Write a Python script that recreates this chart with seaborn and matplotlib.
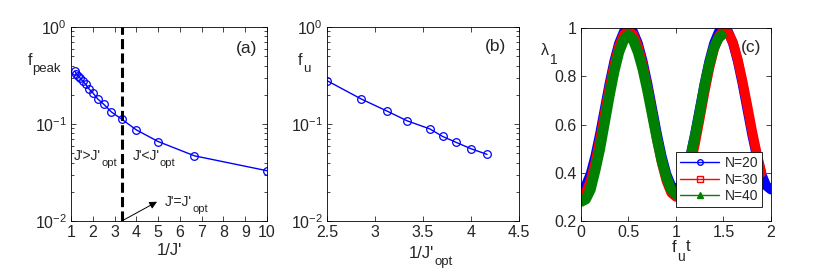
import numpy as np
import pandas as pd
import seaborn as sns
import matplotlib.pyplot as plt
from matplotlib.lines import Line2D

# panel (a): peak frequency vs 1/J'
j_prime = [0.85, 0.8, 0.75, 0.7, 0.65, 0.6, 0.55, 0.5, 0.45, 0.4, 0.35, 0.3, 0.25, 0.2, 0.15, 0.1]
f_peak = [0.352, 0.33, 0.313, 0.296, 0.277, 0.258, 0.231, 0.21, 0.182, 0.16, 0.133, 0.112, 0.087, 0.066, 0.047, 0.033]
j_opt_line = 0.3

# panel (b): f_u vs 1/J'_opt
j_opt = [0.4, 0.35, 0.32, 0.3, 0.28, 0.27, 0.26, 0.25, 0.24]
f_u = [0.28, 0.181, 0.136, 0.108, 0.089, 0.0745, 0.0646, 0.0556, 0.0486]

# panel (c): lambda_1 vs f_u t
t20 = [0, 0.05, 0.1, 0.15, 0.2, 0.25, 0.3, 0.35, 0.4, 0.45, 0.5, 0.55, 0.6, 0.65, 0.7, 0.75, 0.8, 0.85, 0.9, 0.95, 1.0,
       1.05, 1.1, 1.15, 1.2, 1.25, 1.3, 1.35, 1.4, 1.45, 1.5, 1.55, 1.6, 1.65, 1.7, 1.75, 1.8, 1.85, 1.9, 1.95, 2.0]
lam20 = [0.33, 0.346, 0.394, 0.468, 0.561, 0.665, 0.769, 0.862, 0.936, 0.984, 1.0, 0.984, 0.936, 0.862, 0.769, 0.665,
         0.561, 0.468, 0.394, 0.346, 0.33, 0.346, 0.394, 0.468, 0.561, 0.665, 0.769, 0.862, 0.936, 0.984, 1.0, 0.984,
         0.936, 0.862, 0.769, 0.665, 0.561, 0.468, 0.394, 0.346, 0.33]
t30 = [0, 0.05, 0.1, 0.15, 0.2, 0.25, 0.3, 0.35, 0.4, 0.45, 0.5, 0.55, 0.6, 0.65, 0.7, 0.75, 0.8, 0.85, 0.9, 0.95, 1.0,
       1.05, 1.1, 1.15, 1.2, 1.25, 1.3, 1.35, 1.4, 1.45, 1.5, 1.55, 1.6, 1.65, 1.7, 1.75, 1.8, 1.85, 1.9]
lam30 = [0.30, 0.317, 0.366, 0.442, 0.538, 0.645, 0.752, 0.848, 0.924, 0.973, 0.99, 0.973, 0.924, 0.848, 0.752, 0.645,
         0.538, 0.442, 0.366, 0.317, 0.30, 0.312, 0.355, 0.428, 0.52, 0.625, 0.733, 0.832, 0.912, 0.965, 0.99, 0.98,
         0.94, 0.87, 0.78, 0.68, 0.575, 0.48, 0.40]
t40 = [0, 0.05, 0.1, 0.15, 0.2, 0.25, 0.3, 0.35, 0.4, 0.45, 0.5, 0.55, 0.6, 0.65, 0.7, 0.75, 0.8, 0.85, 0.9, 0.95, 1.0,
       1.05, 1.1, 1.15, 1.2, 1.25, 1.3, 1.35, 1.4, 1.45, 1.48]
lam40 = [0.28, 0.29, 0.33, 0.41, 0.50, 0.61, 0.72, 0.82, 0.90, 0.95, 0.97, 0.95, 0.90, 0.83, 0.74, 0.64, 0.54, 0.45,
         0.38, 0.33, 0.31, 0.33, 0.38, 0.46, 0.55, 0.65, 0.76, 0.85, 0.92, 0.96, 0.97]
n_labels = ['N=20', 'N=30', 'N=40']

sns.set_style("ticks")
plt.rcParams['font.family'] = ['Liberation Sans', 'DejaVu Sans']
plt.rcParams['mathtext.fontset'] = 'custom'
plt.rcParams['mathtext.rm'] = 'Liberation Sans'
plt.rcParams['mathtext.it'] = 'Liberation Sans:italic'
plt.rcParams['xtick.direction'] = 'in'
plt.rcParams['ytick.direction'] = 'in'
plt.rcParams['xtick.top'] = True
plt.rcParams['ytick.right'] = True
plt.rcParams['axes.linewidth'] = 0.6
plt.rcParams['xtick.major.width'] = 0.6
plt.rcParams['ytick.major.width'] = 0.6


def sub_text(ax, x, y, base, sub, size, subsize, trans, after=None, shift=0.55):
    # matlab-like subscript, placed after the base text and lowered
    t0 = ax.text(x, y, base, fontsize=size, transform=trans, va='baseline', ha='left')
    desc = 0.21 * size
    t1 = ax.annotate(sub, xy=(1, 0), xycoords=t0, xytext=(0.4, desc - shift * subsize),
                     textcoords='offset points', fontsize=subsize, va='baseline', ha='left',
                     annotation_clip=False)
    if after:
        ax.annotate(after, xy=(1, 0), xycoords=(t1, t0), xytext=(0.3, desc), textcoords='offset points',
                    fontsize=size, va='baseline', ha='left', annotation_clip=False)
    return t0


fig = plt.figure(figsize=(8.17, 2.73), dpi=100)
axa = fig.add_axes([0.0869, 0.1905, 0.2399, 0.7105])
axb = fig.add_axes([0.4002, 0.1905, 0.2351, 0.7105])
axc = fig.add_axes([0.7111, 0.1905, 0.2326, 0.7069])

blue = (0, 0, 1)
red = (1, 0, 0)
green = (0, 0.5, 0)

# (a)
da = pd.DataFrame({'x': 1 / np.array(j_prime), 'y': f_peak})
sns.lineplot(data=da, x='x', y='y', ax=axa, color=blue, lw=1, marker='o', markersize=5.5,
             markerfacecolor='none', markeredgecolor=blue, markeredgewidth=0.9)
axa.set_yscale('log')
axa.set_xlim(1, 10)
axa.set_ylim(1e-2, 1)
axa.set_xticks(range(1, 11))
axa.axvline(1 / j_opt_line, color='k', ls=(0, (3.3, 1.4)), lw=2.2)
axa.set_xlabel("1/J'", labelpad=2, fontsize=12)
axa.set_ylabel('')
sub_text(axa, -0.223, 0.804, 'f', 'peak', 11.5, 9.5, axa.transAxes)
axa.text(0.84, 0.89, '(a)', transform=axa.transAxes, fontsize=12.5, va='center')
sub_text(axa, 1.13, 0.043, "J'>J'", 'opt', 10, 8, axa.transData)
sub_text(axa, 3.82, 0.043, "J'<J'", 'opt', 10, 8, axa.transData)
sub_text(axa, 5.3, 0.0142, "J'=J'", 'opt', 10, 8, axa.transData)
axa.annotate('', xy=(4.95, 0.0158), xytext=(1 / j_opt_line, 0.01), annotation_clip=False,
             arrowprops=dict(arrowstyle='-|>', color='k', lw=0.7, mutation_scale=11, shrinkA=0, shrinkB=0))

# (b)
db = pd.DataFrame({'x': 1 / np.array(j_opt), 'y': f_u})
sns.lineplot(data=db, x='x', y='y', ax=axb, color=blue, lw=1, marker='o', markersize=5.5,
             markerfacecolor='none', markeredgecolor=blue, markeredgewidth=0.9)
axb.set_yscale('log')
axb.set_xlim(2.5, 4.5)
axb.set_ylim(1e-2, 1)
axb.set_xticks([2.5, 3, 3.5, 4, 4.5])
axb.set_xticklabels(['2.5', '3', '3.5', '4', '4.5'])
axb.set_xlabel('')
axb.set_ylabel('')
sub_text(axb, 0.425, -0.19, "1/J'", 'opt', 12, 9.5, axb.transAxes)
sub_text(axb, -0.153, 0.805, 'f', 'u', 11.5, 9.5, axb.transAxes)
axb.text(0.82, 0.9, '(b)', transform=axb.transAxes, fontsize=12.5, va='center')

# (c)
for tt, ll, col, w in [(t20, lam20, blue, 7), (t30, lam30, red, 7), (t40, lam40, green, 7.5)]:
    sns.lineplot(x=tt, y=ll, ax=axc, color=col, lw=w, solid_capstyle='round', solid_joinstyle='round')
axc.set_xlim(0, 2)
axc.set_ylim(0.2, 1)
axc.set_xticks([0, 0.5, 1, 1.5, 2])
axc.set_xticklabels(['0', '0.5', '1', '1.5', '2'])
axc.set_yticks([0.2, 0.4, 0.6, 0.8, 1])
axc.set_yticklabels(['0.2', '0.4', '0.6', '0.8', '1'])
axc.set_xlabel('')
sub_text(axc, 0.48, -0.16, 'f', 'u', 12, 10, axc.transAxes, after='t', shift=0.7)
sub_text(axc, -0.21, 0.86, '\u03bb', '1', 11.5, 10, axc.transAxes, shift=0.7)
axc.text(0.84, 0.9, '(c)', transform=axc.transAxes, fontsize=12.5, va='center')
handles = [Line2D([], [], color=blue, marker='o', ms=4, mfc='none', lw=1),
           Line2D([], [], color=red, marker='s', ms=4, mfc='none', lw=1),
           Line2D([], [], color=green, marker='^', ms=4, lw=1)]
leg = axc.legend(handles, n_labels, loc='lower left', bbox_to_anchor=(0.5, 0.07), borderaxespad=0,
                 fontsize=10, frameon=True, fancybox=False, framealpha=1, edgecolor='k', handlelength=2.8,
                 borderpad=0.3, labelspacing=0.2, handletextpad=0.4)
leg.get_frame().set_linewidth(0.6)

for ax in (axa, axb, axc):
    for s in ax.spines.values():
        s.set_visible(True)
        s.set_color('k')
    ax.tick_params(which='both', direction='in', top=True, right=True, labelsize=11.5, pad=3)

fig.savefig('out.png', dpi=100)
